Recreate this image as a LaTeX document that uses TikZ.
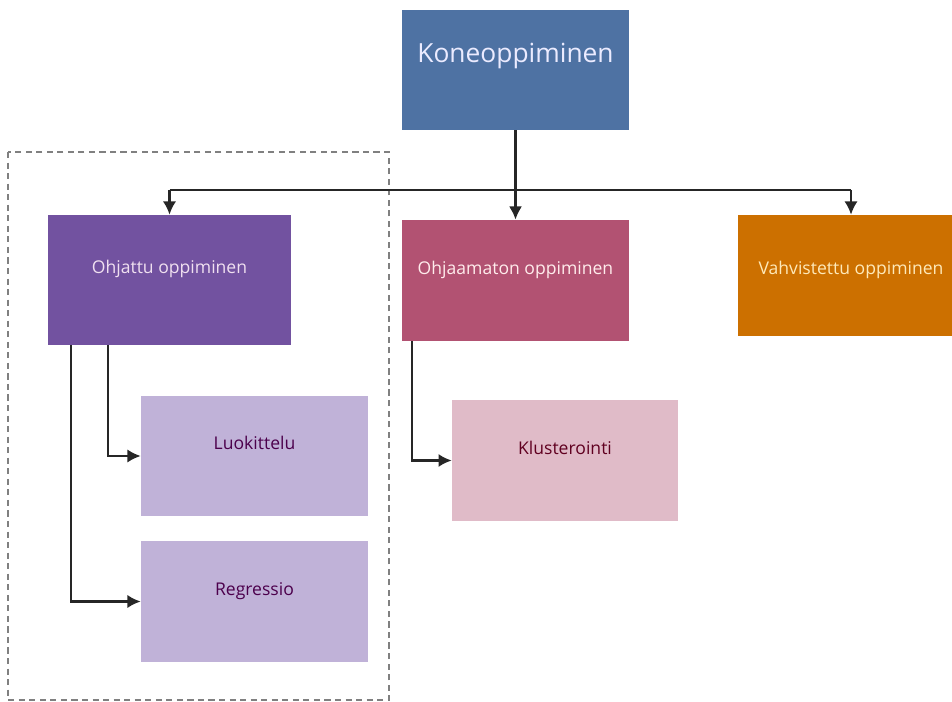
\documentclass[tikz,border=0pt]{standalone}
\usepackage{fontspec}
\setmainfont{Open Sans}
\usetikzlibrary{arrows.meta}
\definecolor{konecol}{RGB}{78,114,163}
\definecolor{ohjcol}{RGB}{114,82,160}
\definecolor{ohjmcol}{RGB}{178,82,114}
\definecolor{vahvcol}{RGB}{204,112,0}
\definecolor{alacol}{RGB}{192,178,216}
\definecolor{kluscol}{RGB}{224,187,200}
\tikzset{
  box/.style={rectangle, inner sep=0pt, minimum width=4.54cm, minimum height=2.42cm,
    text height=8pt, text depth=#1, font=\fontsize{10}{12}\selectfont},
  box/.default=15pt,
  conn/.style={line width=1.2pt, draw=black!85},
  arr/.style={conn, -{Latex[length=7.5pt,width=7.5pt]}}
}
\begin{document}
\begin{tikzpicture}[x=0.02cm,y=-0.02cm]
		\useasboundingbox (0,0) rectangle (952,702);
		% ryhmakehys
		\draw[gray, line width=0.6pt, dash pattern=on 3.5pt off 2.5pt] (8,152) rectangle (389,700);
		\node (kone) at (515.5,70) [box=21pt, fill=konecol, minimum height=2.4cm, text height=12pt, text=blue!8, font=\fontsize{15}{18}\selectfont] {Koneoppiminen};
		\node (ohj) at (169.5,280) [box, fill=ohjcol, minimum width=4.86cm, minimum height=2.6cm, text=violet!12] {Ohjattu oppiminen};
		\node (ohjm) at (515.5,280.5) [box, fill=ohjmcol, text=pink!30] {Ohjaamaton oppiminen};
		\node (vahv) at (851,275.5) [box=9pt, fill=vahvcol, minimum width=4.52cm, text=yellow!40!orange!25] {Vahvistettu oppiminen};
		\node (luok) at (254.5,456) [box, fill=alacol, minimum height=2.4cm, text=violet!60!black] {Luokittelu};
		\node (regr) at (254.5,601.5) [box, fill=alacol, text=violet!60!black] {Regressio};
		\node (klus) at (565,460.5) [box, fill=kluscol, minimum width=4.52cm, text=purple!50!black] {Klusterointi};
		\coordinate (bus) at (0,190);
		\draw[arr, line width=1.6pt] (kone.south) -- (ohjm.north);
		\draw[conn] (ohj.north |- bus) -- (vahv.north |- bus);
		\draw[arr] (ohj.north |- bus) -- (ohj.north);
		\draw[arr] (vahv.north |- bus) -- (vahv.north);
		\draw[arr] ([xshift=1.2cm]ohj.south west) |- (luok.west);
		\draw[arr] ([xshift=0.46cm]ohj.south west) |- (regr.west);
		\draw[arr] ([xshift=0.2cm]ohjm.south west) |- (klus.west);
	\end{tikzpicture}
\end{document}
